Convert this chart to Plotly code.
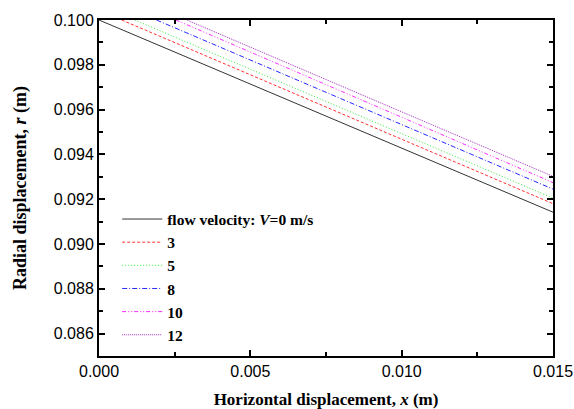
import plotly.graph_objects as go

velocities = ["flow velocity: <i>V</i>=0 m/s", "3", "5", "8", "10", "12"]
x_v0 = [0.0, 0.005, 0.010, 0.015]
r_v0 = [0.1000, 0.09714, 0.09428, 0.09142]
x_v3 = [0.00075, 0.005, 0.010, 0.015]
r_v3 = [0.1000, 0.09755, 0.09467, 0.09180]
x_v5 = [0.00118, 0.005, 0.010, 0.015]
r_v5 = [0.1000, 0.09780, 0.09493, 0.09205]
x_v8 = [0.00190, 0.005, 0.010, 0.015]
r_v8 = [0.1000, 0.09821, 0.09534, 0.09245]
x_v10 = [0.00254, 0.005, 0.010, 0.015]
r_v10 = [0.1000, 0.09858, 0.09566, 0.09274]
x_v12 = [0.00290, 0.005, 0.010, 0.015]
r_v12 = [0.1000, 0.09878, 0.09590, 0.09302]

series = [
    (x_v0, r_v0, "#333333", "solid"),
    (x_v3, r_v3, "#ff3030", "3px,2px"),
    (x_v5, r_v5, "#33ee33", "1px,2px"),
    (x_v8, r_v8, "#2828ff", "5px,2px,1px,2px"),
    (x_v10, r_v10, "#ff28ff", "4px,2px,1px,2px,1px,2px"),
    (x_v12, r_v12, "#a030c0", "1px,1px"),
]

fig = go.Figure()
for name, (xs, rs, col, dash) in zip(velocities, series):
    fig.add_trace(go.Scatter(
        x=xs, y=rs, mode="lines", name="<b>" + name + "</b>",
        line=dict(color=col, width=1, dash=dash),
    ))

axis_common = dict(
    showline=True, linecolor="black", linewidth=2, mirror="allticks",
    ticks="inside", ticklen=6, tickwidth=1.5, tickcolor="black",
    showgrid=False, zeroline=False, automargin=False,
    tickfont=dict(family="Liberation Sans, Arial", size=16, color="black"),
)

fig.update_xaxes(
    range=[0, 0.015], tickvals=[0, 0.005, 0.010, 0.015],
    ticktext=["0.000", "0.005", "0.010", "0.015"],
    minor=dict(ticks="inside", ticklen=4, tickwidth=1.5, tickcolor="black", dtick=0.0025),
    title=dict(text="<b>Horizontal displacement, <i>x</i> (m)</b>",
               font=dict(family="Liberation Serif, Times New Roman", size=17, color="black"),
               standoff=24),
    **axis_common,
)
fig.update_yaxes(
    range=[0.085, 0.100], tickvals=[0.086, 0.088, 0.090, 0.092, 0.094, 0.096, 0.098, 0.100],
    ticktext=["0.086", "0.088", "0.090", "0.092", "0.094", "0.096", "0.098", "0.100"],
    minor=dict(ticks="inside", ticklen=4, tickwidth=1.5, tickcolor="black", dtick=0.001),
    title=dict(text="<b>Radial displacement, <i>r</i> (m)</b>",
               font=dict(family="Liberation Serif, Times New Roman", size=18, color="black"),
               standoff=22),
    **axis_common,
)

fig.update_layout(
    width=574, height=409,
    margin=dict(l=99, r=21, t=20, b=53),
    paper_bgcolor="white", plot_bgcolor="white",
    showlegend=True,
    legend=dict(
        x=0.04, y=0.457, xanchor="left", yanchor="top",
        bgcolor="rgba(0,0,0,0)", borderwidth=0,
        font=dict(family="Liberation Serif, Times New Roman", size=15.5, color="black"),
        itemwidth=40, tracegroupgap=0,
    ),
)

fig.write_html("out.html")
